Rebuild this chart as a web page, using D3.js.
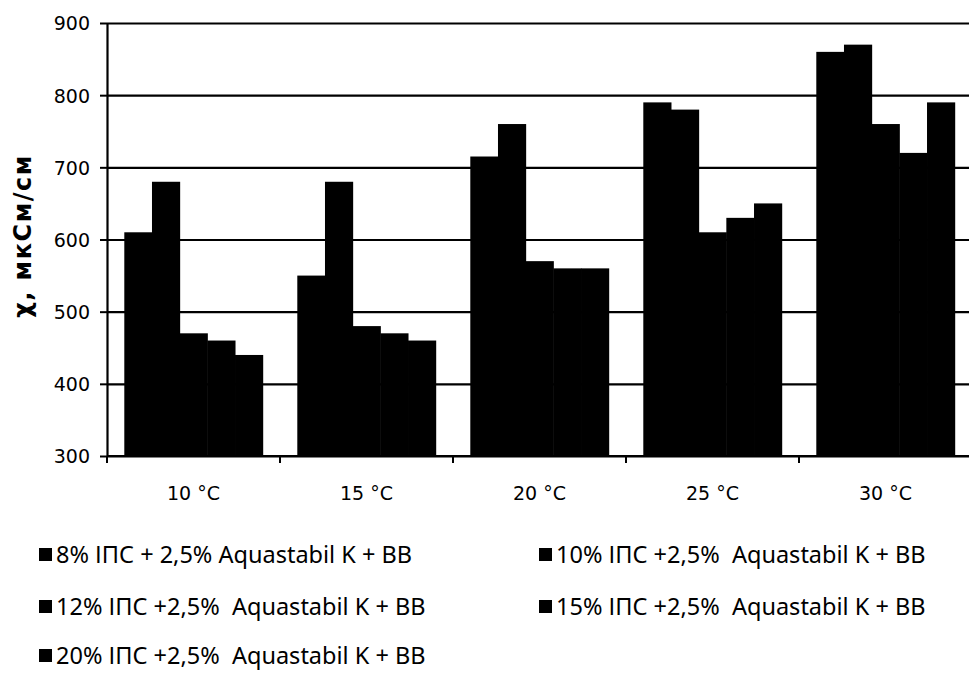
<!DOCTYPE html>
<html>
<head>
<meta charset="utf-8">
<script src="https://cdn.jsdelivr.net/npm/d3@7"></script>
<style>
    html, body { margin: 0; padding: 0; background: #fff; }
    svg { display: block; }
    .tick-label { font-family: "DejaVu Sans", sans-serif; font-size: 19px; fill: #000; }
    .cat-label { font-family: "DejaVu Sans", sans-serif; font-size: 19px; fill: #000; }
    .legend-text { font-family: "Noto Sans", sans-serif; font-size: 23.5px; fill: #000; }
    .y-title { font-family: "DejaVu Sans", sans-serif; font-size: 24px; font-weight: bold; fill: #000; letter-spacing: 1.5px; }
</style>
</head>
<body>
<svg id="chart" width="969" height="675"></svg>
<script>
(function () {
    "use strict";

    // --- Data ---
    var categories = ["10 °C", "15 °C", "20 °C", "25 °C", "30 °C"];
    var seriesNames = [
        "8% ІПС + 2,5% Aquastabil K + BB",
        "10% ІПС +2,5%  Aquastabil K + BB",
        "12% ІПС +2,5%  Aquastabil K + BB",
        "15% ІПС +2,5%  Aquastabil K + BB",
        "20% ІПС +2,5%  Aquastabil K + BB"
    ];
    var s8 = [610, 550, 715, 790, 860];
    var s10 = [680, 680, 760, 780, 870];
    var s12 = [470, 480, 570, 610, 760];
    var s15 = [460, 470, 560, 630, 720];
    var s20 = [440, 460, 560, 650, 790];
    var yTicks = [300, 400, 500, 600, 700, 800, 900];

    var seriesValues = [s8, s10, s12, s15, s20];

    // --- Layout ---
    var left = 107, right = 972, top = 23, bottom = 456;
    var svg = d3.select("#chart");

    var x0 = d3.scaleBand().domain(categories).range([left, right])
        .paddingInner(0.2).paddingOuter(0.1);
    var x1 = d3.scaleBand().domain(d3.range(seriesNames.length))
        .range([0, x0.bandwidth()]);
    var y = d3.scaleLinear().domain([300, 900]).range([bottom, top]);

    // Grid
    svg.append("g")
        .attr("transform", "translate(" + left + ",0)")
        .call(d3.axisLeft(y).tickValues(yTicks).tickSize(-(969 - left)).tickFormat(""))
        .call(function (g) { g.select(".domain").remove(); })
        .selectAll("line").attr("stroke", "#000").attr("stroke-width", 2.2);

    // Bars
    var rows = [];
    categories.forEach(function (c, ci) {
        seriesValues.forEach(function (vals, si) {
            rows.push({ cat: c, s: si, v: vals[ci] });
        });
    });
    svg.append("g").selectAll("rect").data(rows).join("rect")
        .attr("x", function (d) { return x0(d.cat) + x1(d.s); })
        .attr("y", function (d) { return y(d.v); })
        .attr("width", x1.bandwidth() + 0.5)
        .attr("height", function (d) { return y(300) - y(d.v); })
        .attr("fill", "#000");

    // Y axis
    var yAxis = svg.append("g")
        .attr("transform", "translate(" + left + ",0)")
        .call(d3.axisLeft(y).tickValues(yTicks).tickSize(7).tickPadding(10).tickSizeOuter(0));
    yAxis.select(".domain").attr("stroke", "#000").attr("stroke-width", 2.2);
    yAxis.selectAll(".tick line").attr("stroke", "#000").attr("stroke-width", 2);
    yAxis.selectAll("text").attr("class", "tick-label").attr("dy", "0.36em");

    // X axis: boundary ticks between categories
    var step = x0.step();
    var bounds = categories.map(function (c) { return x0(c) - step * x0.paddingOuter(); });
    var xg = svg.append("g");
    xg.append("line").attr("x1", left).attr("x2", 969).attr("y1", bottom).attr("y2", bottom)
        .attr("stroke", "#000").attr("stroke-width", 2.2);
    xg.selectAll("line.tk").data(bounds).join("line").attr("class", "tk")
        .attr("x1", function (d) { return d; }).attr("x2", function (d) { return d; })
        .attr("y1", bottom).attr("y2", bottom + 7)
        .attr("stroke", "#000").attr("stroke-width", 2);
    xg.selectAll("text").data(categories).join("text")
        .attr("class", "cat-label")
        .attr("x", function (d) { return x0(d) + x0.bandwidth() / 2; })
        .attr("y", 500)
        .attr("text-anchor", "middle")
        .text(function (d) { return d; });

    // Y title
    svg.append("text")
        .attr("class", "y-title")
        .attr("transform", "translate(31,236) rotate(-90)")
        .attr("text-anchor", "middle")
        .text("χ, мкСм/см");

    // Legend
    var legendPos = [[39, 555], [539, 555], [39, 607], [539, 607], [39, 656]];
    var lg = svg.append("g").selectAll("g").data(seriesNames).join("g")
        .attr("transform", function (d, i) {
            return "translate(" + legendPos[i][0] + "," + legendPos[i][1] + ")";
        });
    lg.append("rect").attr("x", 0).attr("y", -7).attr("width", 13).attr("height", 13).attr("fill", "#000");
    lg.append("text").attr("class", "legend-text").attr("x", 17).attr("y", 8)
        .style("white-space", "pre")
        .text(function (d) { return d; });
})();
</script>
</body>
</html>
